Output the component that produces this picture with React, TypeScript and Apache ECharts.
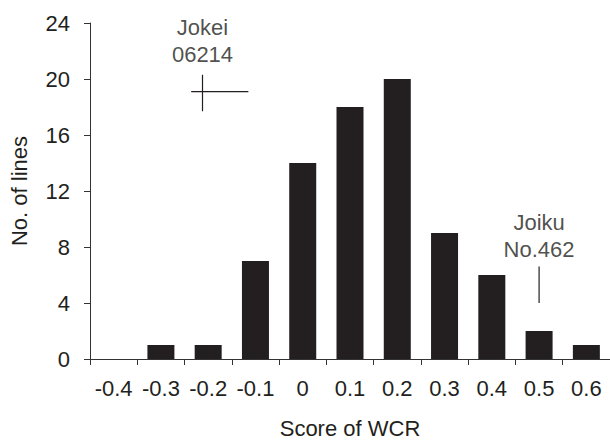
import React, { useEffect, useRef } from "react";
import * as echarts from "echarts";

const categories = ["-0.4", "-0.3", "-0.2", "-0.1", "0", "0.1", "0.2", "0.3", "0.4", "0.5", "0.6"];
const counts = [0, 1, 1, 7, 14, 18, 20, 9, 6, 2, 1];
const yTicks = { min: 0, max: 24, interval: 4 };

// Annotation marks (score, count) in data units
const jokeiVertical = [[-0.212, 17.7], [-0.212, 20.3]];
const jokeiHorizontal = [[-0.236, 19.1], [-0.115, 19.1]];
const joikuVertical = [[0.5, 4.0], [0.5, 6.6]];
const jokeiLabel = "Jokei\n06214";
const joikuLabel = "Joiku\nNo.462";

const INK = "#231f20";
const FONT = "'Liberation Sans', Arial, Helvetica, sans-serif";

export default function App() {
  const ref = useRef<HTMLDivElement>(null);
  useEffect(() => {
    if (!ref.current) return;
    const chart = echarts.init(ref.current, null, { renderer: "svg" });
    chart.setOption({
      animation: false,
      backgroundColor: "#ffffff",
      textStyle: { fontFamily: FONT, color: INK },
      grid: { left: 87, right: 0, top: 23, bottom: 81, containLabel: false },
      xAxis: [
        {
          type: "category",
          data: categories,
          boundaryGap: true,
          name: "Score of WCR",
          nameLocation: "middle",
          nameGap: 58,
          nameTextStyle: { fontSize: 22, color: INK, fontFamily: FONT },
          axisLine: { show: true, onZero: false, lineStyle: { color: "#333", width: 1 } },
          axisTick: { show: true, length: 6, lineStyle: { color: "#333", width: 1 } },
          axisLabel: { fontSize: 22, color: INK, margin: 18, fontFamily: FONT, interval: 0 },
          splitLine: { show: false },
        },
        {
          type: "value",
          min: -0.45,
          max: 0.65,
          show: false,
          axisLine: { onZero: false },
          splitLine: { show: false },
        },
      ],
      yAxis: {
        type: "value",
        min: yTicks.min,
        max: yTicks.max,
        interval: yTicks.interval,
        name: "No. of lines",
        nameLocation: "middle",
        nameGap: 60,
        nameRotate: 90,
        nameTextStyle: { fontSize: 22, color: INK, fontFamily: FONT },
        axisLine: { show: true, onZero: false, lineStyle: { color: "#333", width: 1 } },
        axisTick: { show: true, length: 6, lineStyle: { color: "#333", width: 1 } },
        axisLabel: { fontSize: 22, color: INK, margin: 20, fontFamily: FONT },
        splitLine: { show: false },
      },
      series: [
        {
          type: "bar",
          data: counts,
          barWidth: 27,
          itemStyle: { color: INK },
        },
        {
          type: "line",
          xAxisIndex: 1,
          data: jokeiVertical,
          symbol: "none",
          lineStyle: { color: INK, width: 1.2 },
        },
        {
          type: "line",
          xAxisIndex: 1,
          data: jokeiHorizontal,
          symbol: "none",
          lineStyle: { color: INK, width: 1.2 },
        },
        {
          type: "line",
          xAxisIndex: 1,
          data: joikuVertical,
          symbol: "none",
          lineStyle: { color: INK, width: 1.2 },
        },
        {
          type: "scatter",
          xAxisIndex: 1,
          symbolSize: 1,
          itemStyle: { color: "rgba(0,0,0,0)" },
          data: [
            {
              value: jokeiVertical[1],
              label: { show: true, position: "top", distance: 6, formatter: jokeiLabel },
            },
            {
              value: joikuVertical[1],
              label: { show: true, position: "top", distance: 3, formatter: joikuLabel },
            },
          ],
          label: {
            fontSize: 22,
            lineHeight: 27,
            color: INK,
            fontFamily: FONT,
            align: "center",
          },
        },
      ],
    });
    return () => chart.dispose();
  }, []);
  return (
    <div
      ref={ref}
      style={{ position: "fixed", left: 0, top: 0, width: 610, height: 444 }}
    />
  );
}
